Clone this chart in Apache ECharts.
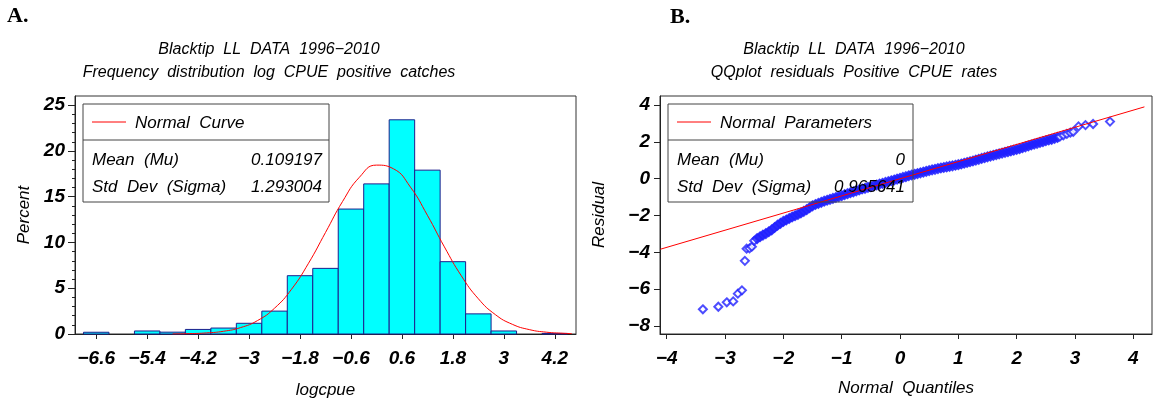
<!DOCTYPE html>
<html>
  <head>
    <meta charset="utf-8" />
    <title>Blacktip LL DATA</title>
    <script src="https://cdn.jsdelivr.net/npm/echarts/dist/echarts.min.js"></script>
    <style>
      body { margin: 0; background: #fff; }
    </style>
  </head>
  <body>
    <div id="main" style="width: 1154px; height: 405px;"></div>
    <script type="text/javascript">
      // histogram of logcpue (bin midpoints, percent), bin width 0.6
      var binWidth = 0.6;
      var histMid = [-6.6, -6.0, -5.4, -4.8, -4.2, -3.6, -3.0, -2.4, -1.8, -1.2, -0.6, 0.0, 0.6, 1.2, 1.8, 2.4, 3.0, 3.6, 4.2];
      var histPct = [0.19, 0, 0.33, 0.2, 0.5, 0.65, 1.17, 2.5, 6.37, 7.17, 13.65, 16.4, 23.4, 17.9, 7.9, 2.2, 0.33, 0, 0.06];
      var histTicks = [-6.6, -5.4, -4.2, -3, -1.8, -0.6, 0.6, 1.8, 3, 4.2];
      var pctTicks = [0, 5, 10, 15, 20, 25];

      // normal curve
      var curveX = [-4.8, -4.4, -4.0, -3.6, -3.2, -2.8, -2.4, -2.0, -1.6, -1.2, -0.8, -0.4, 0.0, 0.4, 0.8, 1.2, 1.6, 2.0, 2.4, 2.8, 3.2, 3.6, 4.0, 4.4, 4.6];
      var curveY = [0.01, 0.04, 0.12, 0.3, 0.7, 1.47, 2.82, 4.89, 7.73, 11.09, 14.46, 17.13, 18.45, 18.05, 16.05, 12.97, 9.52, 6.35, 3.85, 2.12, 1.06, 0.48, 0.2, 0.08, 0.04];

      // QQ plot residuals
      var qqQ = [-3.38, -3.115, -2.97, -2.86, -2.78, -2.71, -2.66, -2.63, -2.58, -2.54, -2.5,
        -2.45, -2.4, -2.35, -2.3, -2.25, -2.2, -2.15, -2.1, -2.05, -2.0, -1.95, -1.9, -1.85, -1.8, -1.75, -1.7, -1.65, -1.6, -1.55, -1.5,
        -1.45, -1.4, -1.35, -1.3, -1.25, -1.2, -1.15, -1.1, -1.05, -1.0, -0.95, -0.9, -0.85, -0.8, -0.75, -0.7, -0.65, -0.6, -0.55, -0.5,
        -0.45, -0.4, -0.35, -0.3, -0.25, -0.2, -0.15, -0.1, -0.05, 0.0, 0.05, 0.1, 0.15, 0.2, 0.25, 0.3, 0.35, 0.4, 0.45, 0.5,
        0.55, 0.6, 0.65, 0.7, 0.75, 0.8, 0.85, 0.9, 0.95, 1.0, 1.05, 1.1, 1.15, 1.2, 1.25, 1.3, 1.35, 1.4, 1.45, 1.5,
        1.55, 1.6, 1.65, 1.7, 1.75, 1.8, 1.85, 1.9, 1.95, 2.0, 2.05, 2.1, 2.15, 2.2, 2.25, 2.3, 2.35, 2.4, 2.45, 2.5,
        2.55, 2.6, 2.65, 2.7, 2.74, 2.8, 2.86, 2.92, 2.97, 3.06, 3.18, 3.31, 3.6];
      var qqR = [-7.09, -6.95, -6.71, -6.66, -6.24, -6.06, -4.46, -3.8, -3.78, -3.69, -3.37,
        -3.25, -3.15, -3.06, -2.98, -2.88, -2.78, -2.65, -2.52, -2.42, -2.32, -2.24, -2.16, -2.08, -2.01, -1.94, -1.86, -1.77, -1.68, -1.57, -1.47,
        -1.4, -1.34, -1.28, -1.22, -1.17, -1.12, -1.07, -1.02, -0.97, -0.92, -0.86, -0.81, -0.76, -0.71, -0.66, -0.61, -0.56, -0.52, -0.47, -0.43,
        -0.38, -0.34, -0.29, -0.25, -0.2, -0.16, -0.11, -0.07, -0.02, 0.02, 0.07, 0.11, 0.16, 0.2, 0.24, 0.28, 0.32, 0.36, 0.4, 0.44,
        0.48, 0.51, 0.55, 0.58, 0.61, 0.64, 0.67, 0.7, 0.73, 0.76, 0.8, 0.84, 0.88, 0.92, 0.96, 1.01, 1.05, 1.1, 1.14, 1.19,
        1.23, 1.27, 1.31, 1.35, 1.39, 1.43, 1.47, 1.51, 1.55, 1.59, 1.63, 1.68, 1.73, 1.78, 1.83, 1.88, 1.92, 1.97, 2.01, 2.06,
        2.1, 2.14, 2.19, 2.24, 2.28, 2.36, 2.43, 2.5, 2.55, 2.84, 2.91, 2.97, 3.1];
      // quantile range where the diamonds pile up into a solid band
      var denseBand = [-2.48, 2.72];
      var refLineQ = [-4.11, 4.19];
      var refLineR = [-3.83, 3.9];
      var quantTicks = [-4, -3, -2, -1, 0, 1, 2, 3, 4];
      var residTicks = [-8, -6, -4, -2, 0, 2, 4];

      var FONT = '"Liberation Sans", Arial, sans-serif';
      var minus = function (v) { return String(v).replace('-', '\u2212'); };
      var minorPct = [];
      for (var i = 1; i < 25; i++) { if (i % 5 !== 0) minorPct.push(i); }

      var tickLabel = { fontSize: 19, fontWeight: 'bold', fontStyle: 'italic', color: '#000', fontFamily: FONT };
      var nameStyle = { fontSize: 17, fontStyle: 'italic', color: '#000', fontFamily: FONT };
      var axisLineStyle = { color: '#222', width: 1 };

      function legendBox(x, y, w, title, rows, valueRight) {
        var els = [
          { type: 'rect', z: 50, shape: { x: x, y: y, width: w, height: 98 }, style: { fill: 'none', stroke: '#444', lineWidth: 1 } },
          { type: 'line', z: 50, shape: { x1: x, y1: y + 36, x2: x + w, y2: y + 36 }, style: { stroke: '#444', lineWidth: 1 } },
          { type: 'line', z: 50, shape: { x1: x + 9, y1: y + 18, x2: x + 43, y2: y + 18 }, style: { stroke: '#ff0000', lineWidth: 1 } },
          { type: 'text', z: 50, style: { x: x + 52, y: y + 19, text: title, font: 'italic 17px ' + FONT, fill: '#000', textVerticalAlign: 'middle' } }
        ];
        rows.forEach(function (r, k) {
          els.push({ type: 'text', z: 50, style: { x: x + 9, y: y + 56 + k * 27, text: r[0], font: 'italic 17px ' + FONT, fill: '#000', textVerticalAlign: 'middle' } });
          els.push({ type: 'text', z: 50, style: { x: valueRight, y: y + 56 + k * 27, text: r[1], font: 'italic 17px ' + FONT, fill: '#000', textAlign: 'right', textVerticalAlign: 'middle' } });
        });
        return els;
      }

      var myChart = echarts.init(document.getElementById('main'));

      var option = {
        animation: false,
        backgroundColor: '#fff',
        title: [
          {
            text: 'Blacktip  LL  DATA  1996\u22122010\nFrequency  distribution  log  CPUE  positive  catches',
            left: 264, top: 33, textAlign: 'center',
            textStyle: { fontSize: 16, fontStyle: 'italic', fontWeight: 'normal', lineHeight: 23, color: '#000', fontFamily: FONT }
          },
          {
            text: 'Blacktip  LL  DATA  1996\u22122010\nQQplot  residuals  Positive  CPUE  rates',
            left: 849, top: 33, textAlign: 'center',
            textStyle: { fontSize: 16, fontStyle: 'italic', fontWeight: 'normal', lineHeight: 23, color: '#000', fontFamily: FONT }
          }
        ],
        grid: [
          { left: 75, top: 96, width: 501, height: 238, show: true, borderColor: '#333', borderWidth: 1 },
          { left: 660, top: 96, width: 492, height: 238, show: true, borderColor: '#333', borderWidth: 1 }
        ],
        xAxis: [
          {
            gridIndex: 0, type: 'value', min: -7.1, max: 4.7,
            axisLine: { show: true, onZero: false, lineStyle: axisLineStyle },
            axisTick: { show: true, customValues: histTicks, length: 5, lineStyle: axisLineStyle },
            axisLabel: Object.assign({ customValues: histTicks, formatter: minus, margin: 15 }, tickLabel),
            splitLine: { show: false },
            name: 'logcpue', nameLocation: 'middle', nameGap: 48, nameTextStyle: nameStyle
          },
          {
            gridIndex: 1, type: 'value', min: -4.115, max: 4.32,
            axisLine: { show: true, onZero: false, lineStyle: axisLineStyle },
            axisTick: { show: true, customValues: quantTicks, length: 5, lineStyle: axisLineStyle },
            axisLabel: Object.assign({ customValues: quantTicks, formatter: minus, margin: 15 }, tickLabel),
            splitLine: { show: false },
            name: 'Normal  Quantiles', nameLocation: 'middle', nameGap: 46, nameTextStyle: nameStyle
          }
        ],
        yAxis: [
          {
            gridIndex: 0, type: 'value', min: 0, max: 26, position: 'left',
            axisLine: { show: true, onZero: false, lineStyle: axisLineStyle },
            axisTick: { show: true, customValues: pctTicks, length: 7, lineStyle: axisLineStyle },
            axisLabel: Object.assign({ customValues: pctTicks, margin: 10 }, tickLabel),
            splitLine: { show: false },
            name: 'Percent', nameLocation: 'middle', nameGap: 42, nameRotate: 90, nameTextStyle: nameStyle
          },
          {
            gridIndex: 0, type: 'value', min: 0, max: 26, position: 'left',
            axisLine: { show: false, onZero: false },
            axisTick: { show: true, customValues: minorPct, length: 3, lineStyle: axisLineStyle },
            axisLabel: { show: false },
            splitLine: { show: false }
          },
          {
            gridIndex: 1, type: 'value', min: -8.43, max: 4.49, position: 'left',
            axisLine: { show: true, onZero: false, lineStyle: axisLineStyle },
            axisTick: { show: true, customValues: residTicks, length: 6, lineStyle: axisLineStyle },
            axisLabel: Object.assign({ customValues: residTicks, formatter: minus, margin: 10 }, tickLabel),
            splitLine: { show: false },
            name: 'Residual', nameLocation: 'middle', nameGap: 52, nameRotate: 90, nameTextStyle: nameStyle
          }
        ],
        series: [
          {
            type: 'custom', xAxisIndex: 0, yAxisIndex: 0,
            encode: { x: 0, y: 1 },
            data: histMid.map(function (m, k) { return [m, histPct[k]]; }),
            renderItem: function (params, api) {
              var x = api.value(0), y = api.value(1);
              if (!(y > 0)) return null;
              var p1 = api.coord([x - binWidth / 2, y]);
              var p2 = api.coord([x + binWidth / 2, 0]);
              return {
                type: 'rect',
                shape: { x: p1[0], y: p1[1], width: p2[0] - p1[0], height: p2[1] - p1[1] },
                style: { fill: '#00ffff', stroke: '#1e1e8c', lineWidth: 1 }
              };
            },
            z: 2
          },
          {
            type: 'line', xAxisIndex: 0, yAxisIndex: 0,
            data: curveX.map(function (x, k) { return [x, curveY[k]]; }),
            smooth: true, showSymbol: false,
            lineStyle: { color: '#ff0000', width: 1 },
            z: 3
          },
          {
            type: 'scatter', xAxisIndex: 1, yAxisIndex: 2,
            data: qqQ.map(function (q, k) { return [q, qqR[k]]; }),
            symbol: function (v) {
              return v[0] > denseBand[0] && v[0] < denseBand[1] ? 'diamond' : 'emptyDiamond';
            },
            symbolSize: function (v) {
              return v[0] > denseBand[0] && v[0] < denseBand[1] ? 10 : 8;
            },
            itemStyle: { color: '#2020ff', borderColor: '#2020ff', borderWidth: 1.2 },
            z: 2
          },
          {
            type: 'line', xAxisIndex: 1, yAxisIndex: 2,
            data: refLineQ.map(function (q, k) { return [q, refLineR[k]]; }),
            showSymbol: false,
            lineStyle: { color: '#ff0000', width: 1 },
            z: 3
          }
        ],
        graphic: [
          { type: 'text', z: 50, style: { x: 7, y: 16, text: 'A.', font: 'bold 22px "Liberation Serif", "Times New Roman", serif', fill: '#000', textVerticalAlign: 'middle' } },
          { type: 'text', z: 50, style: { x: 670, y: 17, text: 'B.', font: 'bold 22px "Liberation Serif", "Times New Roman", serif', fill: '#000', textVerticalAlign: 'middle' } }
        ]
          .concat(legendBox(83, 104, 246, 'Normal  Curve', [['Mean  (Mu)', '0.109197'], ['Std  Dev  (Sigma)', '1.293004']], 322))
          .concat(legendBox(668, 104, 245, 'Normal  Parameters', [['Mean  (Mu)', '0'], ['Std  Dev  (Sigma)', '0.965641']], 905))
      };

      myChart.setOption(option);
    </script>
  </body>
</html>
